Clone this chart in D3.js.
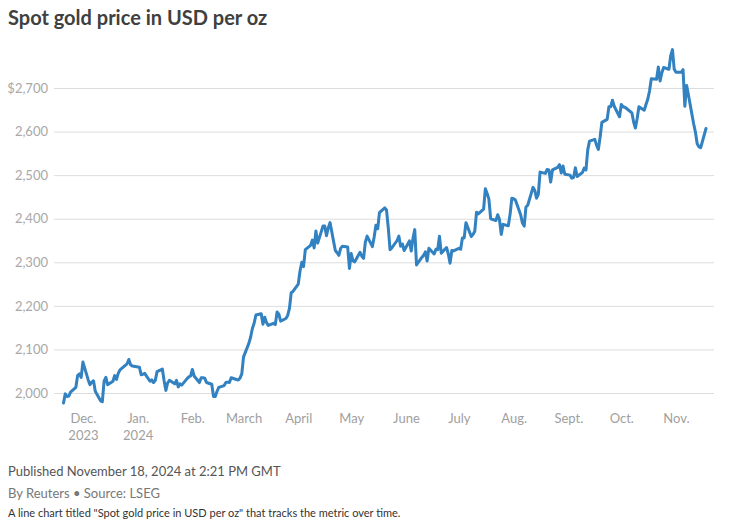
<!DOCTYPE html>
<html>
<head>
<meta charset="utf-8">
<script src="https://cdn.jsdelivr.net/npm/d3@7"></script>
<style>
  html, body { margin: 0; padding: 0; background: #fff; }
  svg { display: block; }
</style>
</head>
<body>
<svg id="chart" width="736" height="527"></svg>
<script>
const dates = [
"2023-11-20","2023-11-21","2023-11-22","2023-11-23","2023-11-24","2023-11-27","2023-11-28","2023-11-29","2023-11-30",
"2023-12-01","2023-12-04","2023-12-05","2023-12-06","2023-12-07","2023-12-08","2023-12-11","2023-12-12","2023-12-13","2023-12-14","2023-12-15",
"2023-12-18","2023-12-19","2023-12-20","2023-12-21","2023-12-22","2023-12-26","2023-12-27","2023-12-28","2023-12-29",
"2024-01-02","2024-01-03","2024-01-04","2024-01-05","2024-01-08","2024-01-09","2024-01-10","2024-01-11","2024-01-12",
"2024-01-15","2024-01-16","2024-01-17","2024-01-18","2024-01-19","2024-01-22","2024-01-23","2024-01-24","2024-01-25","2024-01-26",
"2024-01-29","2024-01-30","2024-01-31","2024-02-01","2024-02-02","2024-02-05","2024-02-06","2024-02-07","2024-02-08","2024-02-09",
"2024-02-12","2024-02-13","2024-02-14","2024-02-15","2024-02-16","2024-02-19","2024-02-20","2024-02-21","2024-02-22","2024-02-23",
"2024-02-26","2024-02-27","2024-02-28","2024-02-29","2024-03-01","2024-03-04","2024-03-05","2024-03-06","2024-03-07","2024-03-08",
"2024-03-11","2024-03-12","2024-03-13","2024-03-14","2024-03-15","2024-03-18","2024-03-19","2024-03-20","2024-03-21","2024-03-22",
"2024-03-25","2024-03-26","2024-03-27","2024-03-28","2024-03-29","2024-04-01","2024-04-02","2024-04-03","2024-04-04","2024-04-05",
"2024-04-08","2024-04-09","2024-04-10","2024-04-11","2024-04-12","2024-04-15","2024-04-16","2024-04-17","2024-04-18","2024-04-19",
"2024-04-22","2024-04-23","2024-04-24","2024-04-25","2024-04-26","2024-04-29","2024-04-30","2024-05-01","2024-05-02","2024-05-03",
"2024-05-06","2024-05-07","2024-05-08","2024-05-09","2024-05-10","2024-05-13","2024-05-14","2024-05-15","2024-05-16","2024-05-17",
"2024-05-20","2024-05-21","2024-05-22","2024-05-23","2024-05-24","2024-05-27","2024-05-28","2024-05-29","2024-05-30","2024-05-31",
"2024-06-03","2024-06-04","2024-06-05","2024-06-06","2024-06-07","2024-06-10","2024-06-11","2024-06-12","2024-06-13","2024-06-14",
"2024-06-17","2024-06-18","2024-06-19","2024-06-20","2024-06-21","2024-06-24","2024-06-25","2024-06-26","2024-06-27","2024-06-28",
"2024-07-01","2024-07-02","2024-07-03","2024-07-04","2024-07-05","2024-07-08","2024-07-09","2024-07-10","2024-07-11","2024-07-12",
"2024-07-15","2024-07-16","2024-07-17","2024-07-18","2024-07-19","2024-07-22","2024-07-23","2024-07-24","2024-07-25","2024-07-26",
"2024-07-29","2024-07-30","2024-07-31","2024-08-01","2024-08-02","2024-08-05","2024-08-06","2024-08-07","2024-08-08","2024-08-09",
"2024-08-12","2024-08-13","2024-08-14","2024-08-15","2024-08-16","2024-08-19","2024-08-20","2024-08-21","2024-08-22","2024-08-23",
"2024-08-26","2024-08-27","2024-08-28","2024-08-29","2024-08-30","2024-09-02","2024-09-03","2024-09-04","2024-09-05","2024-09-06",
"2024-09-09","2024-09-10","2024-09-11","2024-09-12","2024-09-13","2024-09-16","2024-09-17","2024-09-18","2024-09-19","2024-09-20",
"2024-09-23","2024-09-24","2024-09-25","2024-09-26","2024-09-27","2024-09-30","2024-10-01","2024-10-02","2024-10-03","2024-10-04",
"2024-10-07","2024-10-08","2024-10-09","2024-10-10","2024-10-11","2024-10-14","2024-10-15","2024-10-16","2024-10-17","2024-10-18",
"2024-10-21","2024-10-22","2024-10-23","2024-10-24","2024-10-25","2024-10-28","2024-10-29","2024-10-30","2024-10-31","2024-11-01",
"2024-11-04","2024-11-05","2024-11-06","2024-11-07","2024-11-08","2024-11-11","2024-11-12","2024-11-13","2024-11-14","2024-11-15",
"2024-11-18"
];
const prices = [
1977,1998,1992,1993,2002,2013,2040,2044,2036,
2071,2030,2019,2025,2028,2004,1982,1980,2027,2036,2019,
2027,2040,2031,2045,2053,2067,2077,2065,2062,
2059,2042,2043,2045,2027,2030,2024,2029,2049,
2055,2028,2006,2023,2029,2021,2029,2014,2021,2018,
2033,2037,2039,2054,2039,2024,2035,2035,2034,2024,
2020,1992,1992,2004,2013,2017,2024,2025,2024,2035,
2031,2030,2034,2044,2083,2114,2128,2148,2160,2179,
2182,2158,2174,2162,2155,2160,2157,2186,2181,2165,
2171,2178,2194,2230,2233,2250,2280,2300,2290,2329,
2339,2351,2333,2372,2344,2383,2383,2361,2379,2391,
2327,2322,2316,2332,2337,2335,2286,2320,2303,2301,
2323,2314,2309,2346,2360,2336,2358,2385,2377,2414,
2425,2420,2379,2329,2333,2350,2360,2337,2342,2327,
2349,2326,2355,2375,2294,2311,2316,2324,2303,2332,
2319,2330,2329,2360,2321,2334,2319,2298,2327,2326,
2332,2330,2356,2356,2391,2359,2364,2371,2415,2411,
2422,2469,2458,2445,2400,2396,2409,2398,2364,2387,
2384,2410,2447,2446,2443,2409,2390,2383,2427,2431,
2472,2465,2447,2456,2507,2504,2513,2512,2484,2512,
2518,2524,2505,2521,2502,2500,2493,2495,2517,2497,
2506,2516,2512,2558,2578,2582,2569,2559,2587,2621,
2628,2657,2657,2672,2658,2634,2662,2657,2656,2653,
2643,2622,2608,2630,2657,2649,2662,2674,2693,2721,
2720,2748,2716,2735,2747,2743,2774,2788,2743,2736,
2736,2742,2658,2706,2685,2618,2599,2572,2565,2563,
2607
];
const yTicks = [2000, 2100, 2200, 2300, 2400, 2500, 2600, 2700];
const monthTicks = ["2023-12-01","2024-01-01","2024-02-01","2024-03-01","2024-04-01","2024-05-01","2024-06-01","2024-07-01","2024-08-01","2024-09-01","2024-10-01","2024-11-01"];
const monthLabels = ["Dec.","Jan.","Feb.","March","April","May","June","July","Aug.","Sept.","Oct.","Nov."];
const yearLabels = ["2023","2024","","","","","","","","","",""];

const parse = d3.utcParse("%Y-%m-%d");
const data = dates.map((d, i) => ({ date: parse(d), value: prices[i] }));

const svg = d3.select("#chart");
const font = "Lato, 'Noto Sans', sans-serif";

const x = d3.scaleUtc()
  .domain([parse(dates[0]), parse(dates[dates.length - 1])])
  .range([63.5, 706]);
const y = d3.scaleLinear().domain([2000, 2700]).range([393, 88]);

// Title
svg.append("text")
  .attr("x", 8).attr("y", 25)
  .attr("font-family", font).attr("font-weight", 700).attr("font-size", 20)
  .attr("fill", "#404040")
  .text("Spot gold price in USD per oz");

// Gridlines + y labels
const yAxis = d3.axisLeft(y).tickValues(yTicks)
  .tickSize(-(714 - 54))
  .tickPadding(6)
  .tickFormat((d, i) => (d === 2700 ? "$" : "") + d3.format(",")(d));
const gy = svg.append("g").attr("transform", "translate(54,0)").call(yAxis);
gy.select(".domain").remove();
gy.selectAll(".tick line").attr("stroke", "#dcdcdc").attr("stroke-width", 1);
gy.selectAll(".tick text")
  .attr("font-family", font).attr("font-size", 13).attr("fill", "#a8a8a8");

// X axis labels
const xAxis = d3.axisBottom(x)
  .tickValues(monthTicks.map(parse))
  .tickSize(0)
  .tickPadding(0)
  .tickFormat((d, i) => monthLabels[i]);
const gx = svg.append("g").attr("transform", "translate(0,414)").call(xAxis);
gx.select(".domain").remove();
gx.selectAll(".tick text")
  .attr("font-family", font).attr("font-size", 13).attr("fill", "#a0a0a0")
  .attr("dy", "0.71em")
  .each(function(d, i) {
    if (yearLabels[i]) {
      d3.select(this.parentNode).append("text")
        .attr("y", 17).attr("dy", "0.71em")
        .attr("text-anchor", "middle")
        .attr("font-family", font).attr("font-size", 13).attr("fill", "#a0a0a0")
        .text(yearLabels[i]);
    }
  });

// Line
const line = d3.line().x(d => x(d.date)).y(d => y(d.value));
svg.append("path")
  .datum(data)
  .attr("d", line)
  .attr("fill", "none")
  .attr("stroke", "#3281c0")
  .attr("stroke-width", 3)
  .attr("stroke-linejoin", "round")
  .attr("stroke-linecap", "round");

// Footer
svg.append("text").attr("x", 8).attr("y", 476)
  .attr("font-family", font).attr("font-size", 13).attr("fill", "#555")
  .text("Published November 18, 2024 at 2:21 PM GMT");
svg.append("text").attr("x", 8).attr("y", 498)
  .attr("font-family", font).attr("font-size", 13).attr("fill", "#777")
  .text("By Reuters \u2022 Source: LSEG");
svg.append("text").attr("x", 8).attr("y", 517)
  .attr("font-family", font).attr("font-size", 11).attr("fill", "#333")
  .text("A line chart titled \"Spot gold price in USD per oz\" that tracks the metric over time.");
</script>
</body>
</html>
